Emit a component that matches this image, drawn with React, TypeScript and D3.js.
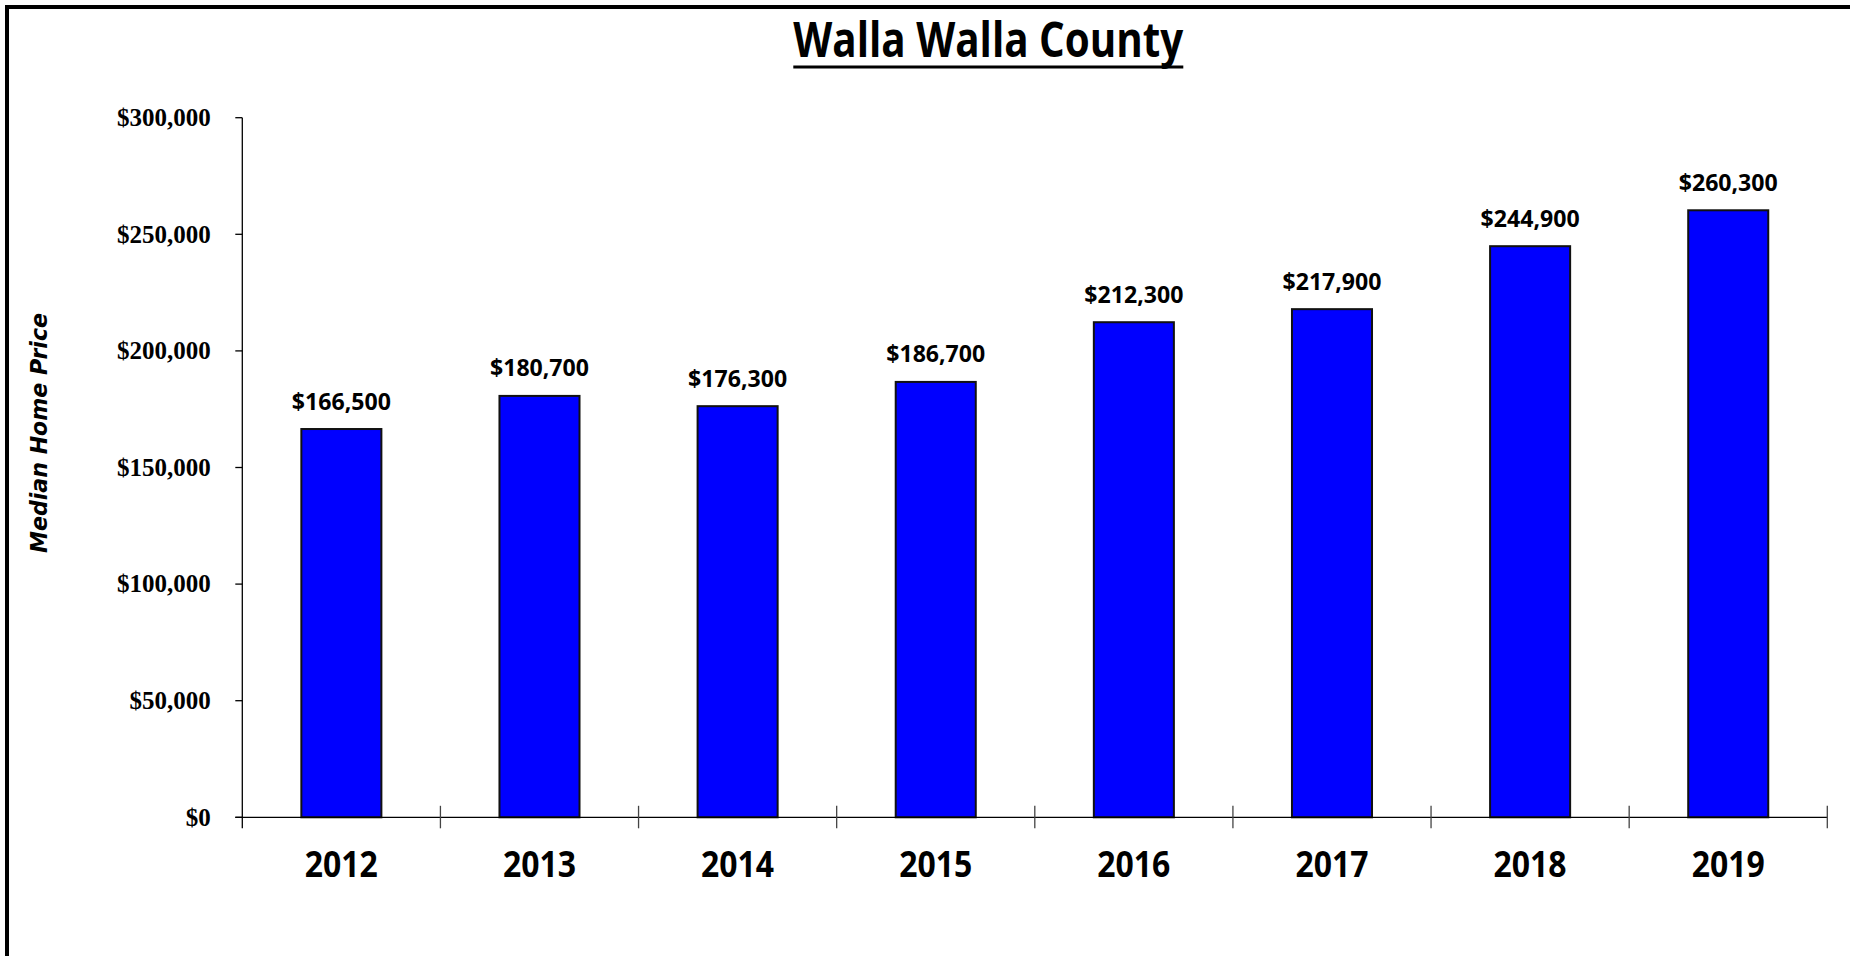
import React from "react";
import * as d3 from "d3";

const years = ["2012", "2013", "2014", "2015", "2016", "2017", "2018", "2019"];
const prices = [166500, 180700, 176300, 186700, 212300, 217900, 244900, 260300];
const yTicks = [0, 50000, 100000, 150000, 200000, 250000, 300000];
const chartTitle = "Walla Walla County";
const yAxisTitle = "Median Home Price";

const W = 1850;
const H = 956;
const plotLeft = 242.3;
const plotRight = 1827.3;
const plotTop = 117.7;
const plotBottom = 817.3;

export default function App() {
  const x = d3.scaleBand<string>().domain(years).range([plotLeft, plotRight]).padding(0);
  const y = d3.scaleLinear().domain([0, 300000]).range([plotBottom, plotTop]);
  const fmt = d3.format("$,");
  const barW = x.bandwidth() * 0.404;
  const bounds = [...years.map((d) => x(d) as number), plotRight];

  return (
    <svg
      width={W}
      height={H}
      viewBox={`0 0 ${W} ${H}`}
      style={{ position: "absolute", left: 0, top: 0, background: "#fff" }}
    >
      <rect x={0} y={0} width={W} height={H} fill="#fff" />
      <rect x={7} y={7} width={W + 100} height={H + 100} fill="none" stroke="#000" strokeWidth={4} />

      {/* Title */}
      <text
        x={988.3}
        y={57}
        textAnchor="middle"
        fontFamily="'Open Sans', sans-serif"
        fontWeight={700}
        fontSize={48}
        textLength={390}
        lengthAdjust="spacingAndGlyphs"
        fill="#000"
      >
        {chartTitle}
      </text>
      <line x1={793.3} x2={1183.3} y1={67} y2={67} stroke="#000" strokeWidth={3} />

      {/* Y axis title */}
      <text
        transform={`translate(47,433) rotate(-90)`}
        textAnchor="middle"
        fontFamily="'DejaVu Sans', sans-serif"
        fontWeight={700}
        fontStyle="italic"
        fontSize={23}
        textLength={240}
        lengthAdjust="spacingAndGlyphs"
        fill="#000"
      >
        {yAxisTitle}
      </text>

      {/* Y axis */}
      <line x1={plotLeft} x2={plotLeft} y1={plotTop} y2={plotBottom + 11} stroke="#000" strokeWidth={1.3} />
      {yTicks.map((t) => (
        <g key={t}>
          <line x1={plotLeft - 7} x2={plotLeft} y1={y(t)} y2={y(t)} stroke="#000" strokeWidth={1.3} />
          <text
            x={210.7}
            y={y(t) + 8.3}
            textAnchor="end"
            fontFamily="'Liberation Serif', 'Times New Roman', serif"
            fontWeight={700}
            fontSize={25}
            fill="#000"
          >
            {fmt(t)}
          </text>
        </g>
      ))}

      {/* Bars */}
      {years.map((d, i) => {
        const cx = (x(d) as number) + x.bandwidth() / 2;
        const top = y(prices[i]);
        return (
          <g key={d}>
            <rect
              x={cx - barW / 2}
              y={top}
              width={barW}
              height={plotBottom - top}
              fill="#0000FF"
              stroke="#111"
              strokeWidth={2}
            />
            <text
              x={cx}
              y={top - 19.5}
              textAnchor="middle"
              fontFamily="'Open Sans', sans-serif"
              fontWeight={700}
              fontSize={23}
              textLength={99}
              lengthAdjust="spacingAndGlyphs"
              fill="#000"
            >
              {fmt(prices[i])}
            </text>
            <text
              x={cx}
              y={877}
              textAnchor="middle"
              fontFamily="'Open Sans', sans-serif"
              fontWeight={700}
              fontSize={35}
              textLength={73}
              lengthAdjust="spacingAndGlyphs"
              fill="#000"
            >
              {d}
            </text>
          </g>
        );
      })}

      {/* X axis */}
      <line x1={plotLeft - 7} x2={plotRight} y1={plotBottom} y2={plotBottom} stroke="#000" strokeWidth={1.3} />
      {bounds.slice(1).map((b, i) => (
        <line key={i} x1={b} x2={b} y1={plotBottom - 11.5} y2={plotBottom + 11} stroke="#444" strokeWidth={1.3} />
      ))}
    </svg>
  );
}
